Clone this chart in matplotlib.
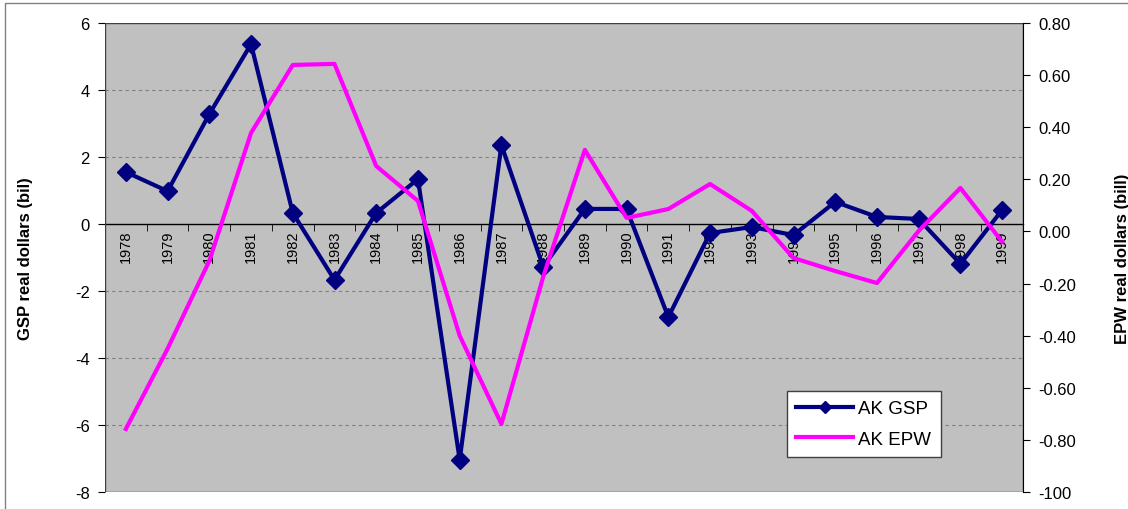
import matplotlib
matplotlib.use("Agg")
import matplotlib.pyplot as plt
from matplotlib.patches import Rectangle
from matplotlib.ticker import FixedLocator, FixedFormatter

plt.rcParams['font.family'] = ['Liberation Sans', 'DejaVu Sans']
plt.rcParams['axes.unicode_minus'] = False

years = [str(y) for y in range(1978, 2000)]
gsp = [1.55, 0.98, 3.28, 5.37, 0.33, -1.67, 0.33, 1.34, -7.04, 2.36, -1.28,
       0.45, 0.45, -2.78, -0.27, -0.09, -0.33, 0.66, 0.21, 0.15, -1.19, 0.42]
epw = [-0.758, -0.45, -0.113, 0.378, 0.639, 0.643, 0.251, 0.117, -0.40, -0.739, -0.175,
       0.313, 0.052, 0.086, 0.182, 0.079, -0.102, -0.152, -0.198, 0.002, 0.167, -0.04]

left_ticks = [-8, -6, -4, -2, 0, 2, 4, 6]
right_ticks = [-1.0, -0.8, -0.6, -0.4, -0.2, 0.0, 0.2, 0.4, 0.6, 0.8]
right_labels = ['-100', '-0.80', '-0.60', '-0.40', '-0.20', '0.00', '0.20', '0.40', '0.60', '0.80']

fig = plt.figure(figsize=(11.28, 5.10), dpi=100)
# outer chart border (runs past the right and bottom edges)
fig.patches.append(Rectangle((0.004, -0.01), 1.01, 1.002, transform=fig.transFigure,
                             fill=False, edgecolor='#808080', linewidth=1.0))

ax = fig.add_axes([105 / 1128, 1 - 493 / 510, 918 / 1128, 469 / 510])
ax.set_facecolor('#C0C0C0')
x = list(range(len(years)))

ax.set_xlim(-0.5, len(years) - 0.5)
ax.set_ylim(-8, 6)
ax.yaxis.set_major_locator(FixedLocator(left_ticks))
for t in left_ticks:
    if t != 0:
        ax.axhline(t, color='#808080', linestyle=(0, (3, 3)), linewidth=0.8, zorder=0)

# category axis sits on the zero line
for s in ['top', 'right', 'left']:
    ax.spines[s].set_visible(False)
ax.spines['bottom'].set_position(('data', 0))
ax.spines['bottom'].set_linewidth(1.0)
ax.set_xticks(x)
ax.set_xticklabels(years, rotation=90, fontsize=10.5)
ax.set_xticks([i - 0.5 for i in range(len(years) + 1)], minor=True)
ax.tick_params(axis='x', which='major', length=0, pad=4)
ax.tick_params(axis='x', which='minor', length=5, direction='out')
ax.tick_params(axis='y', length=5, direction='out', labelsize=12, pad=6)
ax.add_patch(Rectangle((0, 0), 1, 1, transform=ax.transAxes, fill=False,
                       edgecolor='#404040', linewidth=1.0, zorder=5))

l1, = ax.plot(x, gsp, color='#000080', linewidth=3, marker='D', markersize=9,
              label='AK GSP', zorder=3)
ax.set_ylabel('GSP real dollars (bil)', fontsize=12, fontweight='bold', labelpad=30)

ax2 = ax.twinx()
ax2.set_ylim(-1.0, 0.8)
for s in ['top', 'left', 'bottom']:
    ax2.spines[s].set_visible(False)
ax2.yaxis.set_major_locator(FixedLocator(right_ticks))
ax2.yaxis.set_major_formatter(FixedFormatter(right_labels))
ax2.tick_params(axis='y', length=5, direction='out', labelsize=12, pad=6)
l2, = ax2.plot(x, epw, color='#FF00FF', linewidth=3, label='AK EPW', zorder=3)
ax2.set_ylabel('EPW real dollars (bill)', fontsize=12, fontweight='bold', labelpad=28)

leg = ax2.legend(handles=[l1, l2], loc='upper left',
                 bbox_to_anchor=(787 / 1128, 1 - 392 / 510), bbox_transform=fig.transFigure,
                 borderaxespad=0, fontsize=13.5, frameon=True, fancybox=False,
                 framealpha=1, edgecolor='#404040', handlelength=3.0, borderpad=0.5,
                 labelspacing=0.7, handletextpad=0.3)
leg.get_frame().set_linewidth(1.0)
leg.legend_handles[0].set_markersize(6)

fig.savefig('out.png', dpi=100)
